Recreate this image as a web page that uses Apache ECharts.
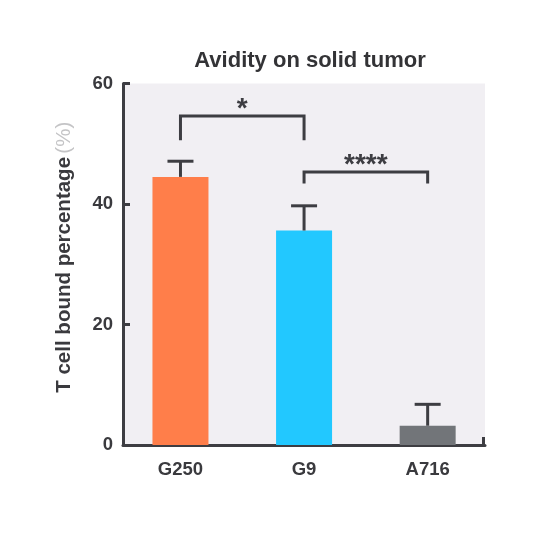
<!DOCTYPE html>
<html><head><meta charset="utf-8">
<script src="https://cdn.jsdelivr.net/npm/echarts@6/dist/echarts.min.js"></script>
<style>html,body{margin:0;padding:0;background:#fff}#c{width:541px;height:541px}</style>
</head><body><div id="c"></div>
<script>
const categories = ['G250', 'G9', 'A716'];
const means = [44.5, 35.6, 3.2];
const errTops = [47.1, 39.7, 6.75];
const barColors = ['#ff7e4a', '#22c8ff', '#727579'];
const yTicks = [0, 20, 40, 60];
// significance brackets: [fromIndex, toIndex, barY, legY, label]
const brackets = [[0, 1, 54.6, 50.6, '*'], [1, 2, 45.3, 43.4, '****']];

const xMin = -0.465, xMax = 2.464;
const dark = '#3d3d42';
const font = '"Liberation Sans", Arial, sans-serif';

const chart = echarts.init(document.getElementById('c'), null, {renderer: 'canvas'});
chart.setOption({
  animation: false,
  title: {
    text: 'Avidity on solid tumor', left: 305, top: 45, textAlign: 'center',
    textStyle: {fontFamily: font, fontSize: 22, fontWeight: 'bold', color: '#333336'}
  },
  grid: {left: 123, right: 56, top: 83.5, bottom: 96, show: true, backgroundColor: '#f1eff3', borderWidth: 0},
  xAxis: {
    type: 'value', min: xMin, max: xMax,
    splitLine: {show: false},
    axisLine: {onZero: false, lineStyle: {color: dark, width: 3}},
    axisTick: {inside: true, length: 8, lineStyle: {color: dark, width: 3}, customValues: [0, 1, 2, xMax - 0.015]},
    axisLabel: {customValues: [0, 1, 2], margin: 15, formatter: v => categories[Math.round(v)] || '',
      fontFamily: font, fontSize: 18.5, fontWeight: 'bold', color: '#3a3a3e'}
  },
  yAxis: {
    type: 'value', min: yTicks[0], max: yTicks[yTicks.length - 1], interval: 20,
    splitLine: {show: false},
    axisLine: {show: true, onZero: false, lineStyle: {color: dark, width: 3}},
    axisTick: {show: true, inside: true, length: 7, lineStyle: {color: dark, width: 3}},
    axisLabel: {margin: 10, fontFamily: font, fontSize: 18.5, fontWeight: 'bold', color: '#3a3a3e'},
    name: '{a|T cell bound percentage} {b|(%)}',
    nameLocation: 'middle', nameGap: 48, nameRotate: 90,
    nameTextStyle: {
      padding: [0, 0, 0, 14],
      rich: {
        a: {fontFamily: font, fontSize: 20.5, fontWeight: 'bold', color: '#3a3a3e'},
        b: {fontFamily: font, fontSize: 20.5, fontWeight: 'normal', color: '#c4c4c6'}
      }
    }
  },
  series: [
    {
      type: 'bar', barWidth: 56,
      data: means.map((v, i) => ({value: [i, v], itemStyle: {color: barColors[i]}})),
      z: 2
    },
    {
      type: 'custom', z: 3,
      data: means.map((v, i) => [i, v, errTops[i]]),
      renderItem: (params, api) => {
        const p0 = api.coord([api.value(0), api.value(1)]);
        const p1 = api.coord([api.value(0), api.value(2)]);
        const cw = 13;
        return {type: 'group', children: [
          {type: 'line', shape: {x1: p0[0], y1: p0[1], x2: p1[0], y2: p1[1]}, style: {stroke: dark, lineWidth: 3}},
          {type: 'line', shape: {x1: p1[0] - cw, y1: p1[1], x2: p1[0] + cw, y2: p1[1]}, style: {stroke: dark, lineWidth: 3}}
        ]};
      }
    },
    {
      type: 'custom', z: 3,
      data: brackets,
      renderItem: (params, api) => {
        const a = api.coord([api.value(0), api.value(2)]);
        const b = api.coord([api.value(1), api.value(2)]);
        const la = api.coord([api.value(0), api.value(3)]);
        const label = brackets[params.dataIndex][4];
        return {type: 'group', children: [
          {type: 'polyline', shape: {points: [[la[0], la[1]], [a[0], a[1]], [b[0], b[1]], [b[0], la[1]]]},
            style: {stroke: dark, lineWidth: 3, fill: null}},
          {type: 'text', x: (a[0] + b[0]) / 2, y: a[1] + 7,
            style: {text: label, textAlign: 'center', textVerticalAlign: 'bottom', fill: dark,
              font: 'bold 28px ' + font}}
        ]};
      }
    }
  ]
});
</script></body></html>
